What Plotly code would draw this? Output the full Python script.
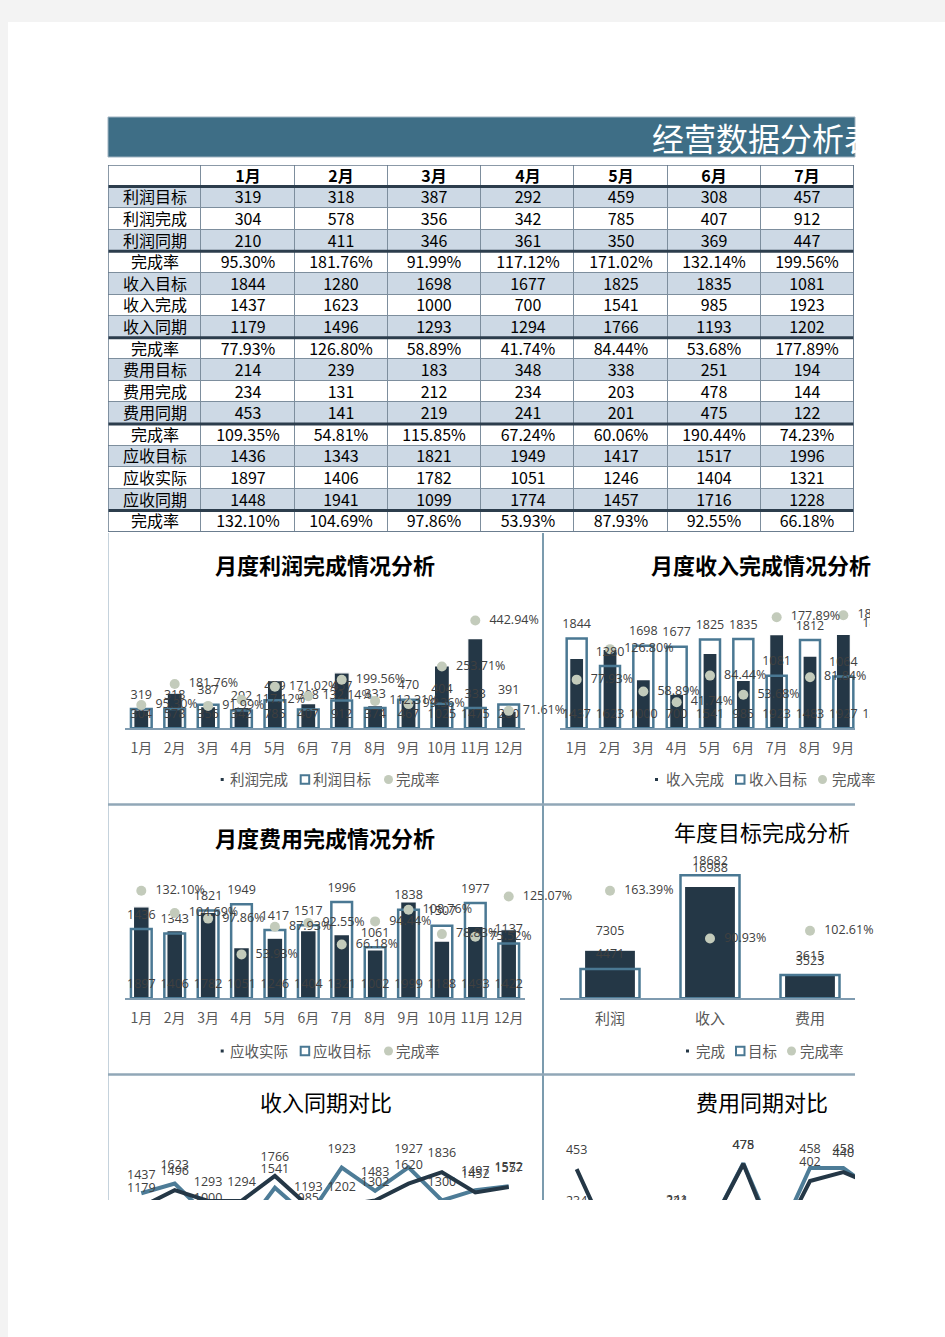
import plotly.graph_objects as go

W, H = 945, 1337


def px(x):
    return x / W


def py(y):
    return 1 - y / H


def xdom(a, b):
    return [a / W, b / W]


def ydom(top, bottom):
    return [1 - bottom / H, 1 - top / H]


# ---------------- data ----------------
months = [f"{i}月" for i in range(1, 13)]
table_months = months[:7]

profit_target = [319, 318, 387, 292, 459, 308, 457, 333, 470, 404, 333, 391]
profit_done = [304, 578, 356, 342, 785, 407, 912, 374, 467, 1025, 1475, 280]
profit_prev = [210, 411, 346, 361, 350, 369, 447]
profit_rate = [95.30, 181.76, 91.99, 117.12, 171.02, 132.14, 199.56, 112.31, 99.36, 253.71, 442.94, 71.61]

income_target = [1844, 1280, 1698, 1677, 1825, 1835, 1081, 1812, 1064, 1870, 1380, 1316]
income_done = [1437, 1623, 1000, 700, 1541, 985, 1923, 1483, 1927, 1300, 1497, 1572]
income_prev = [1179, 1496, 1293, 1294, 1766, 1193, 1202, 1302, 1620, 1836, 1452, 1557]
income_rate = [77.93, 126.80, 58.89, 41.74, 84.44, 53.68, 177.89, 81.84, 181.11, 69.52, 108.48, 119.45]

cost_target = [214, 239, 183, 348, 338, 251, 194]
cost_done = [234, 131, 212, 234, 203, 478, 144, 458, 458, 352, 366, 345]
cost_prev = [453, 141, 219, 241, 201, 475, 122, 402, 440, 380, 395, 410]
cost_rate = [109.35, 54.81, 115.85, 67.24, 60.06, 190.44, 74.23]

recv_target = [1436, 1343, 1821, 1949, 1417, 1517, 1996, 1061, 1838, 1507, 1977, 1137]
recv_actual = [1897, 1406, 1782, 1051, 1246, 1404, 1321, 1002, 1999, 1188, 1493, 1422]
recv_prev = [1448, 1941, 1099, 1774, 1457, 1716, 1228]
recv_rate = [132.10, 104.69, 97.86, 53.93, 87.93, 92.55, 66.18, 94.44, 108.76, 78.83, 75.52, 125.07]

annual_cats = ["利润", "收入", "费用"]
annual_done = [7305, 16988, 3615]
annual_target = [4471, 18682, 3523]
annual_rate = [163.39, 90.93, 102.61]

row_labels = ["利润目标", "利润完成", "利润同期", "完成率",
              "收入目标", "收入完成", "收入同期", "完成率",
              "费用目标", "费用完成", "费用同期", "完成率",
              "应收目标", "应收实际", "应收同期", "完成率"]
row_values = [profit_target, profit_done, profit_prev, profit_rate,
              income_target, income_done, income_prev, income_rate,
              cost_target, cost_done, cost_prev, cost_rate,
              recv_target, recv_actual, recv_prev, recv_rate]
row_is_pct = [False, False, False, True] * 4

# ---------------- style ----------------
DARK = "#243746"
OUTL = "#4a7893"
DOT = "#c3cbbb"
LIGHT = "#4d7c97"
LBL = "#404040"
AX = "#595959"
CJK = "Noto Sans CJK SC"
NUM = "Open Sans"
TBL_FONT = "Liberation Sans Narrow, Noto Sans CJK SC"

fig = go.Figure()

# ---------------- table as heatmap ----------------
z = [[0] * 8]
txt = [[""] + [f"<b>{m}</b>" for m in table_months]]
for i, (lab, vals, pct) in enumerate(zip(row_labels, row_values, row_is_pct)):
    z.append([1 if i % 4 in (0, 2) else 0] * 8)
    cells = [f"{v:.2f}%" for v in vals[:7]] if pct else [str(v) for v in vals[:7]]
    txt.append([lab] + cells)

fig.add_trace(go.Heatmap(
    z=z, x=list(range(8)), y=list(range(17)), text=txt, texttemplate="%{text}",
    textfont=dict(family=TBL_FONT, size=16, color="#000000"),
    colorscale=[[0, "#ffffff"], [1, "#cdd9e5"]], zmin=0, zmax=1,
    showscale=False, xgap=1, ygap=1, hoverinfo="skip",
    xaxis="x7", yaxis="y11"))


# ---------------- combo bar charts ----------------
def combo(xa, ya, ya2, cats, done, target, rate, dw, tw, clip,
          done_on_top=False, xlab=None):
    xl = xlab or xa
    fig.add_trace(go.Bar(x=cats, y=done, width=dw, xaxis=xa, yaxis=ya,
                         marker=dict(color=DARK, line=dict(color="white", width=1.2)),
                         hoverinfo="skip", showlegend=False))
    fig.add_trace(go.Bar(x=cats, y=target, width=tw, xaxis=xa, yaxis=ya,
                         marker=dict(color="rgba(0,0,0,0)", line=dict(color=OUTL, width=2.5)),
                         hoverinfo="skip", showlegend=False))
    fig.add_trace(go.Scatter(
        x=cats, y=(done if done_on_top else [0] * len(cats)), xaxis=xl, yaxis=ya,
        mode="markers+text", marker=dict(size=(17 if done_on_top else 10), color="rgba(0,0,0,0)"),
        text=[str(v) for v in done], textposition="top center",
        textfont=dict(family=NUM, size=12.5, color=LBL), cliponaxis=clip,
        hoverinfo="skip", showlegend=False))
    fig.add_trace(go.Scatter(
        x=cats, y=target, xaxis=xl, yaxis=ya,
        mode="markers+text", marker=dict(size=10, color="rgba(0,0,0,0)"),
        text=[str(v) for v in target], textposition="top center",
        textfont=dict(family=NUM, size=12.5, color=LBL), cliponaxis=clip,
        hoverinfo="skip", showlegend=False))
    fig.add_trace(go.Scatter(
        x=cats, y=[r / 100 for r in rate], xaxis=xa, yaxis=ya2,
        mode="markers", marker=dict(size=10, color=DOT), cliponaxis=clip,
        hoverinfo="skip", showlegend=False))
    fig.add_trace(go.Scatter(
        x=cats, y=[r / 100 for r in rate], xaxis=xl, yaxis=ya2,
        mode="markers+text", marker=dict(size=21, color="rgba(0,0,0,0)"),
        text=[f"{r:.2f}%" for r in rate], textposition="middle right",
        textfont=dict(family=NUM, size=12.5, color=LBL), cliponaxis=clip,
        hoverinfo="skip", showlegend=False))


combo("x", "y", "y2", months, profit_done, profit_target, profit_rate, 0.45, 0.62, False)
combo("x2", "y3", "y4", months, income_done, income_target, income_rate, 0.42, 0.60, True,
      xlab="x8")
combo("x3", "y5", "y6", months, recv_actual, recv_target, recv_rate, 0.47, 0.62, False)
combo("x4", "y7", "y8", annual_cats, annual_done, annual_target, annual_rate, 0.51, 0.59, False,
      done_on_top=True)


# ---------------- line charts ----------------
def lines(xa, ya, cats, done, prev):
    for vals, col in ((done, LIGHT), (prev, DARK)):
        fig.add_trace(go.Scatter(
            x=cats, y=vals, xaxis=xa, yaxis=ya, mode="lines+markers+text",
            line=dict(color=col, width=4),
            marker=dict(size=17, color="rgba(0,0,0,0)"),
            text=[str(v) for v in vals], textposition="top center",
            textfont=dict(family=NUM, size=12.5, color=LBL), cliponaxis=True,
            hoverinfo="skip", showlegend=False))


lines("x5", "y9", months, income_done, income_prev)
lines("x6", "y10", months, cost_done, cost_prev)

# ---------------- axes ----------------
xbase = dict(showline=True, linecolor="#7f9bb0", linewidth=2, ticks="",
             showgrid=False, zeroline=False, type="category",
             tickfont=dict(family=CJK, size=14, color=AX), ticklabelstandoff=6)
yhid = dict(visible=False, showgrid=False, zeroline=False, fixedrange=True)

L_X = (124.6, 525.4)
R_X = (560, 855)
TXT_CLIP = 870
SP = 33.33  # px per month in the right-hand charts
lay = dict(
    xaxis=dict(xbase, domain=xdom(*L_X), anchor="y", range=[-0.5, 11.5]),
    yaxis=dict(yhid, domain=ydom(606.6, 728.3), anchor="x", range=[0, 2000]),
    yaxis2=dict(yhid, overlaying="y", anchor="x", side="right", range=[0, 5.0]),
    xaxis2=dict(xbase, domain=xdom(*R_X), anchor="y3", range=[-0.5, 8.35]),
    xaxis8=dict(visible=False, type="category", domain=xdom(560, TXT_CLIP), anchor="y3",
                range=[-0.5, -0.5 + (TXT_CLIP - 560) / SP], categoryorder="array",
                categoryarray=months),
    yaxis3=dict(yhid, domain=ydom(606.6, 728.3), anchor="x2", range=[0, 2500]),
    yaxis4=dict(yhid, overlaying="y3", anchor="x2", side="right", range=[0, 1.95]),
    xaxis3=dict(xbase, domain=xdom(*L_X), anchor="y5", range=[-0.5, 11.5]),
    yaxis5=dict(yhid, domain=ydom(877.8, 998.3), anchor="x3", range=[0, 2500]),
    yaxis6=dict(yhid, overlaying="y5", anchor="x3", side="right", range=[0, 1.48]),
    xaxis4=dict(xbase, domain=xdom(*R_X), anchor="y7", range=[-0.5, 2.45],
                tickfont=dict(family=CJK, size=15, color=AX)),
    yaxis7=dict(yhid, domain=ydom(866.7, 998.3), anchor="x4", range=[0, 20000]),
    yaxis8=dict(yhid, overlaying="y7", anchor="x4", side="right", range=[0, 2.0]),
    xaxis5=dict(xbase, domain=xdom(*L_X), anchor="y9", range=[-0.5, 11.5],
                showline=False, showticklabels=False),
    yaxis9=dict(yhid, domain=ydom(1125, 1200), anchor="x5", range=[1310, 2730]),
    xaxis6=dict(xbase, domain=xdom(*R_X), anchor="y10", range=[-0.5, 8.35],
                showline=False, showticklabels=False),
    yaxis10=dict(yhid, domain=ydom(1125, 1200), anchor="x6", range=[320.6, 642]),
    xaxis7=dict(visible=False, domain=xdom(108, 854), anchor="y11", range=[-0.5, 7.5],
                fixedrange=True),
    yaxis11=dict(visible=False, domain=ydom(165, 532), anchor="x7", range=[16.5, -0.5],
                 fixedrange=True),
)

# ---------------- shapes ----------------
shapes = []
shapes.append(dict(type="rect", xref="paper", yref="paper", x0=0, x1=1, y0=py(22), y1=1,
                   fillcolor="#f3f3f3", line=dict(width=0), layer="below"))
shapes.append(dict(type="rect", xref="paper", yref="paper", x0=0, x1=px(8), y0=0, y1=1,
                   fillcolor="#f3f3f3", line=dict(width=0), layer="below"))
shapes.append(dict(type="rect", xref="x7 domain", yref="y11 domain", x0=0, x1=1, y0=0, y1=1,
                   fillcolor="#7d8e9d", line=dict(width=0), layer="below"))
for b in (0.5, 3.5, 7.5, 11.5, 15.5):
    shapes.append(dict(type="line", xref="x7", yref="y11", x0=-0.5, x1=7.5, y0=b, y1=b,
                       line=dict(color="#2c3d4c", width=3), layer="above"))
shapes.append(dict(type="rect", xref="x7", yref="y11", x0=-0.5, x1=7.5, y0=-0.5, y1=16.5,
                   line=dict(color="#66788a", width=1.5), layer="above"))
shapes.append(dict(type="rect", xref="paper", yref="paper", x0=px(108), x1=px(855),
                   y0=py(157), y1=py(117), fillcolor="#3e6e86",
                   line=dict(color="#9fb3c1", width=1), layer="below"))
shapes.append(dict(type="line", xref="paper", yref="paper", x0=px(543), x1=px(543),
                   y0=py(1200), y1=py(533), line=dict(color="#4f7a93", width=1.5)))
shapes.append(dict(type="line", xref="paper", yref="paper", x0=px(108.5), x1=px(108.5),
                   y0=py(1200), y1=py(533), line=dict(color="#c5d2dc", width=1)))
for yy in (804.5, 1074.5):
    shapes.append(dict(type="line", xref="paper", yref="paper", x0=px(108), x1=px(855),
                       y0=py(yy), y1=py(yy), line=dict(color="#91a7b7", width=2.5)))


def legend_syms(y, sq, hol, cir):
    shapes.append(dict(type="rect", xref="paper", yref="paper", x0=px(sq), x1=px(sq + 3),
                       y0=py(y + 1.5), y1=py(y - 1.5), fillcolor=DARK, line=dict(width=0)))
    shapes.append(dict(type="rect", xref="paper", yref="paper", x0=px(hol), x1=px(hol + 8.5),
                       y0=py(y + 4.2), y1=py(y - 4.2), fillcolor="white",
                       line=dict(color=OUTL, width=2)))
    shapes.append(dict(type="circle", xref="paper", yref="paper", x0=px(cir), x1=px(cir + 9),
                       y0=py(y + 4.5), y1=py(y - 4.5), fillcolor=DOT, line=dict(width=0)))


legend_syms(779.5, 220.7, 300.7, 384)
legend_syms(779.5, 655, 736, 818)
legend_syms(1051, 220.7, 300.7, 384)
legend_syms(1051, 686, 736, 787)

# ---------------- annotations ----------------
ann = []


def text(x, y, s, size=14, color=AX, anchor="left", family=CJK):
    ann.append(dict(x=px(x), y=py(y), xref="paper", yref="paper", text=s, showarrow=False,
                    xanchor=anchor, yanchor="middle",
                    font=dict(family=family, size=size, color=color)))


text(650, 137, "经营数据分析表", size=32, color="#ffffff")
ann.append(dict(x=px(855.5), y=py(137), xref="paper", yref="paper", text=" ", showarrow=False,
                xanchor="left", yanchor="middle", width=90, height=50, bgcolor="#ffffff",
                borderpad=0, borderwidth=0))

text(325, 563.5, "<b>月度利润完成情况分析</b>", size=22, color="#000000", anchor="center")
text(761, 563.5, "<b>月度收入完成情况分析</b>", size=22, color="#000000", anchor="center")
text(325, 836.5, "<b>月度费用完成情况分析</b>", size=22, color="#000000", anchor="center")
text(762, 830.5, "年度目标完成分析", size=22, color="#000000", anchor="center")
text(326, 1101, "收入同期对比", size=22, color="#000000", anchor="center")
text(762, 1101, "费用同期对比", size=22, color="#000000", anchor="center")

for (y, items) in [
    (779, [(228, "利润完成"), (311, "利润目标"), (394, "完成率")]),
    (779, [(664, "收入完成"), (747, "收入目标"), (830, "完成率")]),
    (1050.5, [(228, "应收实际"), (311, "应收目标"), (394, "完成率")]),
    (1050.5, [(694, "完成"), (746, "目标"), (798, "完成率")]),
]:
    for x, s in items:
        text(x, y, s, size=14.5)

fig.update_layout(
    width=W, height=H, margin=dict(l=0, r=0, t=0, b=0),
    paper_bgcolor="#ffffff", plot_bgcolor="rgba(0,0,0,0)",
    barmode="overlay", showlegend=False, font=dict(family=CJK),
    shapes=shapes, annotations=ann, **lay)

fig.write_html("out.html")
